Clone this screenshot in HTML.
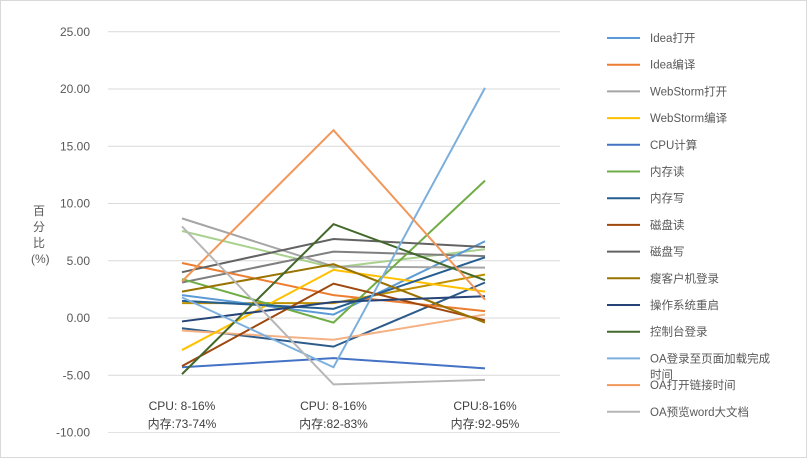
<!DOCTYPE html>
<html><head><meta charset="utf-8"><style>
body{margin:0;background:#fff}
svg{font-family:"Liberation Sans","Noto Sans CJK SC",sans-serif}
</style></head><body>
<svg id="c" width="812" height="463">
<rect x="0.5" y="0.5" width="806" height="457" fill="#fff" stroke="#d9d9d9"/>
<g id="grid"></g><g id="ylab"></g><g id="xlab"></g><g id="lines"></g><g id="legend"></g>
<text x="38" y="215" font-size="12" fill="#595959"><tspan x="33" dy="0">百</tspan><tspan x="33" dy="16">分</tspan><tspan x="33" dy="16">比</tspan><tspan x="31" dy="16">(%)</tspan></text>
</svg>
<script>
const categories=[["CPU: 8-16%","内存:73-74%"],["CPU: 8-16%","内存:82-83%"],["CPU:8-16%","内存:92-95%"]];
const seriesNames=["Idea打开","Idea编译","WebStorm打开","WebStorm编译","CPU计算","内存读","内存写","磁盘读","磁盘写","瘦客户机登录","操作系统重启","控制台登录","OA登录至页面加载完成时间","OA打开链接时间","OA预览word大文档"];
const colors=["#5B9BD5","#ED7D31","#A5A5A5","#FFC000","#4472C4","#70AD47","#255E91","#9E480E","#636363","#997300","#264478","#43682B","#7CAFDD","#F1975A","#B7B7B7"];
const s1=[2.0,0.3,6.7];
const s2=[4.8,2.0,0.6];
const s3=[8.7,4.5,4.4];
const s4=[-2.8,4.2,2.3];
const s5=[-4.3,-3.5,-4.4];
const s6=[3.4,-0.4,12.0];
const s7=[1.5,0.8,5.3];
const s8=[-4.2,3.0,-0.2];
const s9=[4.0,6.9,6.2];
const s10=[2.3,4.7,-0.4];
const s11=[-0.3,1.4,1.9];
const s12=[-4.9,8.2,3.3];
const s13=[1.8,-4.3,20.1];
const s14=[3.2,16.4,1.6];
const s15=[8.0,-5.8,-5.4];
const s16=[7.6,4.4,6.0];
const s17=[-0.9,-2.5,3.1];
const s18=[-1.1,-1.9,0.3];
const s19=[1.3,1.3,3.8];
const s20=[3.1,5.8,5.4];
const extraColors=["#A9D18E","#2E5C8A","#F4B183","#BF9000","#7F7F7F"];
const series=[s1,s2,s3,s4,s5,s6,s7,s8,s9,s10,s11,s12,s13,s14,s15];
const extras=[s16,s17,s18,s19,s20];
const yTicks=[25,20,15,10,5,0,-5,-10];
const NS="http://www.w3.org/2000/svg";
const y=v=>318-v*11.45;
const xs=[182,334,485];
const x=i=>xs[0]+i*(xs[2]-xs[0])/(categories.length-1);
function mk(t,a,p){const e=document.createElementNS(NS,t);for(const k in a)e.setAttribute(k,a[k]);p.appendChild(e);return e;}
const G=document.getElementById('grid'),YL=document.getElementById('ylab'),XL=document.getElementById('xlab'),L=document.getElementById('lines'),LG=document.getElementById('legend');
yTicks.forEach(t=>{
 const l=mk('line',{x1:108,x2:560,y1:y(t),y2:y(t),stroke:t===-10?'#e3e3e3':'#d9d9d9','stroke-width':1},G);
 
 
 const tx=mk('text',{x:90,y:y(t)+4,'text-anchor':'end','font-size':12,fill:'#595959'},YL);
 tx.textContent=t.toFixed(2);
 
 
});
categories.forEach((c,i)=>{
 const tx=mk('text',{x:x(i),y:410,'text-anchor':'middle','font-size':12,fill:'#404040'},XL);
 tx.textContent=c[0];
 
 
 const t2=mk('text',{x:x(i),y:428,'text-anchor':'middle','font-size':12,fill:'#404040'},XL);
 t2.textContent=c[1];
 
 
});
function draw(vals,col){
 const p=mk('polyline',{points:vals.map((v,i)=>x(i)+','+y(v)).join(' '),fill:'none',stroke:col,'stroke-width':2},L);
 
 
}
extras.forEach((s,i)=>draw(s,extraColors[i]));
series.forEach((s,i)=>draw(s,colors[i]));
seriesNames.forEach((n,i)=>{
 const yy=38+i*26.7;
 const l=mk('line',{x1:607,x2:640,y1:yy,y2:yy,stroke:colors[i],'stroke-width':2},LG);
 
 
 const wrap=n.length>12;
 const t=mk('text',{x:650,y:yy+4,'font-size':11.5,fill:'#595959'},LG);
 t.textContent=wrap?n.slice(0,11):n;
 
 
 if(wrap){const t2=mk('text',{x:650,y:yy+20,'font-size':11.5,fill:'#595959'},LG);t2.textContent=n.slice(11);
 
 }
});
</script>
</body></html>
